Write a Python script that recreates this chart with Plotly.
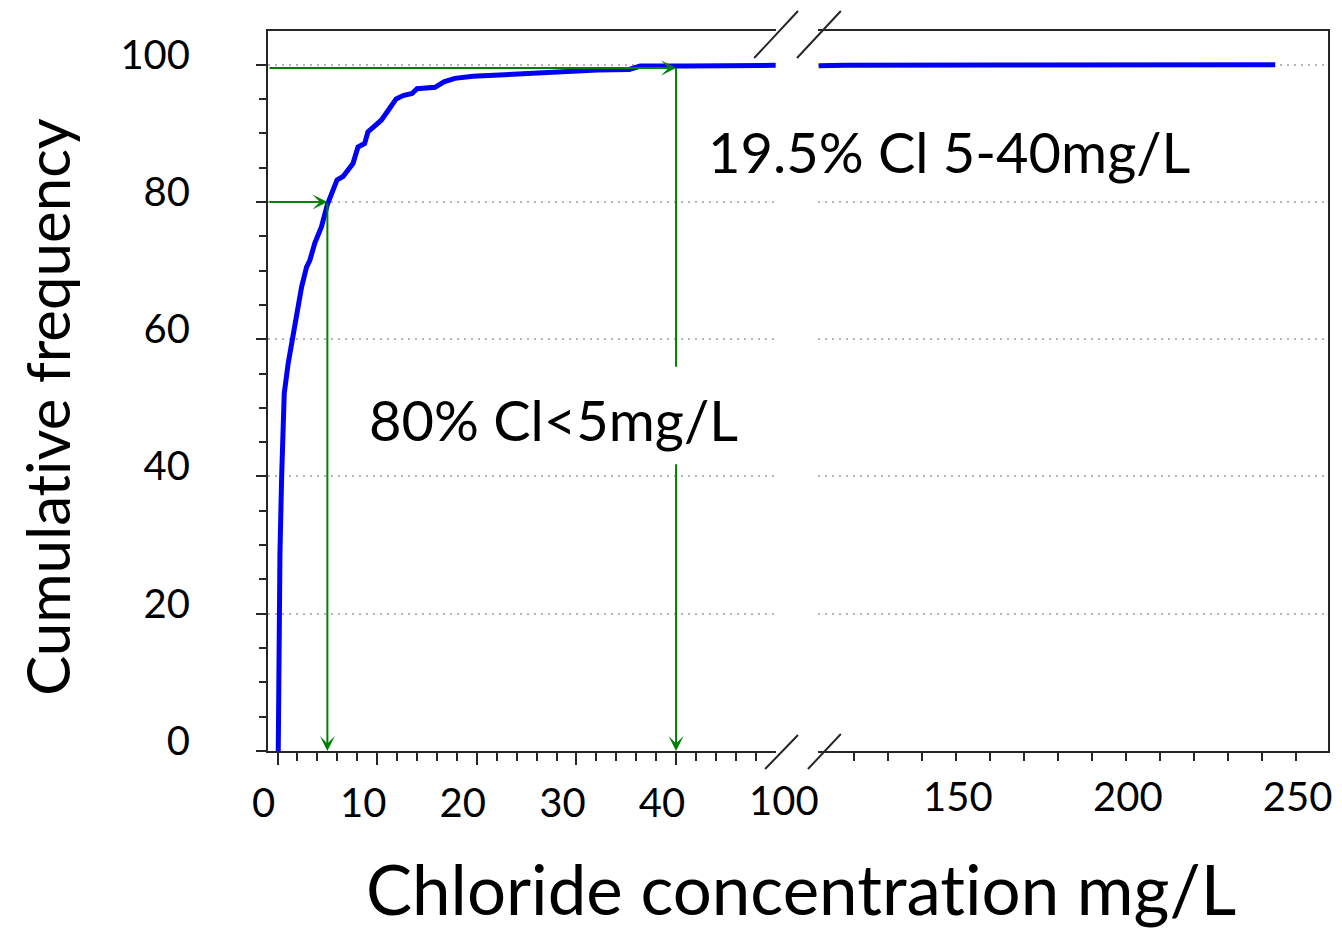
import plotly.graph_objects as go

# Cumulative frequency (%) of chloride concentration (mg/L), range below the axis break
conc_low = [0.07, 0.14, 0.24, 0.41, 0.51, 0.67, 1.07, 1.51, 1.91, 2.41, 2.91,
            3.24, 3.74, 4.41, 5.0, 5.57, 5.97, 6.57, 7.57, 8.07, 8.74, 9.07,
            9.57, 10.41, 11.24, 11.9, 12.6, 13.5, 14.0, 15.8, 16.7, 17.8,
            19.6, 23.1, 27.8, 32.1, 35.3, 36.4, 41.0, 50.0]
cumfreq_low = [0.0, 19.1, 28.8, 40.0, 46.8, 52.1, 56.5, 60.4, 64.2, 67.6, 70.5,
               71.5, 74.0, 76.4, 79.6, 81.7, 83.2, 83.7, 85.6, 88.0, 88.5, 90.2,
               90.9, 91.9, 93.6, 95.0, 95.5, 95.8, 96.5, 96.7, 97.5, 98.0,
               98.3, 98.6, 99.0, 99.2, 99.3, 99.8, 99.8, 99.9]

# Range above the axis break
conc_high = [109.6, 117.6, 162.9, 207.3, 244.0]
cumfreq_high = [99.85, 99.9, 99.93, 99.97, 100.0]

# Threshold annotations
threshold_low = 5        # mg/L
threshold_high = 40      # mg/L
share_below_low = 80     # %
share_between = 19.5     # %
label_low = "80% Cl<5mg/L"
label_between = "19.5% Cl 5-40mg/L"

# Axis ticks
y_ticks = [0, 20, 40, 60, 80, 100]
x_ticks_low = [0, 10, 20, 30, 40]
x_ticks_high = [150, 200, 250]
break_label = "100"
x_title = "Chloride concentration mg/L"
y_title = "Cumulative frequency"

# ---- page geometry ----
W, H = 1342, 930
ML, MR, MT, MB = 268, 10, 31, 179
PW = W - ML - MR
PH = H - MT - MB


def fx(px):
    return (px - ML) / PW


def fy(py):
    return (H - MB - py) / PH


def plain(text):
    # keep letter pairs such as "ti" from being merged into ligatures
    return '<span style="font-variant-ligatures:none">' + text + '</span>'


FONT = "Lato"
INK = "#262626"
GREEN = "#008000"
BLUE = "#0000F5"
GRID = "#b4b4b4"

fig = go.Figure()

fig.add_trace(go.Scatter(x=conc_low, y=cumfreq_low, mode="lines",
                         line=dict(color=BLUE, width=5),
                         xaxis="x", yaxis="y", showlegend=False))
fig.add_trace(go.Scatter(x=conc_high, y=cumfreq_high, mode="lines",
                         line=dict(color=BLUE, width=5),
                         xaxis="x2", yaxis="y2", showlegend=False))

x_low_range = [-0.96, 50.04]
x_high_range = [109.38, 259.53]
y_range = [0, 104.9]

share_top = share_below_low + share_between

# threshold guide lines and arrows
arrow = dict(showarrow=True, text="", arrowcolor=GREEN, arrowwidth=2,
             arrowhead=3, arrowsize=1.25, standoff=0, startstandoff=0,
             xref="x", yref="y", axref="x", ayref="y")
annotations = [
    dict(x=threshold_low, y=share_below_low, ax=x_low_range[0], ay=share_below_low, **arrow),
    dict(x=threshold_low, y=0, ax=threshold_low, ay=share_below_low, **arrow),
    dict(x=threshold_high, y=share_top, ax=x_low_range[0], ay=share_top, **arrow),
    dict(x=threshold_high, y=0, ax=threshold_high, ay=42.0, **arrow),
]
shapes = [
    dict(type="line", xref="x", yref="y", x0=threshold_high, x1=threshold_high,
         y0=share_top, y1=56.0, line=dict(color=GREEN, width=2)),
]

# text labels
annotations += [
    dict(text=label_between, x=fx(708), y=fy(152), xref="paper", yref="paper",
         xanchor="left", yanchor="middle", showarrow=False,
         font=dict(family=FONT, size=56, color="black")),
    dict(text=label_low, x=fx(367), y=fy(419), xref="paper", yref="paper",
         xanchor="left", yanchor="middle", showarrow=False,
         font=dict(family=FONT, size=56, color="black")),
    dict(text=break_label, x=fx(786), y=fy(800), xref="paper", yref="paper",
         xanchor="center", yanchor="middle", showarrow=False,
         font=dict(family=FONT, size=40, color="black")),
    dict(text=plain(x_title), x=fx(803), y=fy(888), xref="paper", yref="paper",
         xanchor="center", yanchor="middle", showarrow=False,
         font=dict(family=FONT, size=69, color="black")),
    dict(text=plain(y_title), x=fx(46), y=fy(407), xref="paper", yref="paper",
         xanchor="center", yanchor="middle", showarrow=False, textangle=-90,
         font=dict(family=FONT, size=60, color="black")),
]

# axis-break slashes
for (x0, y0, x1, y1) in [(756, 58, 800, 11), (799, 58, 843, 11),
                         (767, 769, 800, 735), (810, 769, 843, 734)]:
    shapes.append(dict(type="line", xref="paper", yref="paper",
                       x0=fx(x0), y0=fy(y0), x1=fx(x1), y1=fy(y1),
                       line=dict(color=INK, width=2)))

minor_low = [v for v in range(2, 50, 2) if v % 10]
minor_high = [v for v in range(120, 260, 10) if v not in x_ticks_high]
minor_y = [v for v in range(5, 101, 5) if v % 20]

common_x = dict(showline=True, mirror=True, linecolor=INK, linewidth=2,
                ticks="outside", tickcolor=INK, tickwidth=2, showgrid=False,
                zeroline=False, tickfont=dict(family=FONT, size=40, color="black"))

fig.update_layout(
    width=W, height=H,
    margin=dict(l=ML, r=MR, t=MT, b=MB),
    paper_bgcolor="white", plot_bgcolor="white",
    xaxis=dict(domain=[0, fx(778)], range=x_low_range, anchor="y",
               tickmode="array", tickvals=x_ticks_low, ticklen=12,
               ticklabelstandoff=4, ticklabelshift=-14,
               minor=dict(tickmode="array", tickvals=minor_low, ticklen=8,
                          ticks="outside", tickcolor=INK, tickwidth=2),
               **common_x),
    xaxis2=dict(domain=[fx(820), 1], range=x_high_range, anchor="y2",
                tickmode="array", tickvals=x_ticks_high, ticklen=8,
                ticklabelstandoff=2, ticklabelshift=2,
                minor=dict(tickmode="array", tickvals=minor_high, ticklen=8,
                           ticks="outside", tickcolor=INK, tickwidth=2),
                **common_x),
    yaxis=dict(domain=[0, 1], range=y_range, anchor="x",
               tickmode="array", tickvals=y_ticks, ticks="outside", ticklen=10,
               tickcolor=INK, tickwidth=2, showline=True, linecolor=INK,
               linewidth=2, zeroline=False, showgrid=True, gridcolor=GRID,
               gridwidth=1.5, griddash="2px,5px",
               ticklabelstandoff=58, ticklabelshift=-10,
               tickfont=dict(family=FONT, size=40, color="black"),
               minor=dict(tickmode="array", tickvals=minor_y, ticklen=7,
                          ticks="outside", tickcolor=INK, tickwidth=2)),
    yaxis2=dict(domain=[0, 1], range=y_range, anchor="x2", matches="y",
                side="right", tickmode="array", tickvals=y_ticks,
                showticklabels=False, ticks="", showline=True, linecolor=INK,
                linewidth=2, zeroline=False, showgrid=True, gridcolor=GRID,
                gridwidth=1.5, griddash="2px,5px"),
    annotations=annotations,
    shapes=shapes,
)

fig.write_html("out.html")
